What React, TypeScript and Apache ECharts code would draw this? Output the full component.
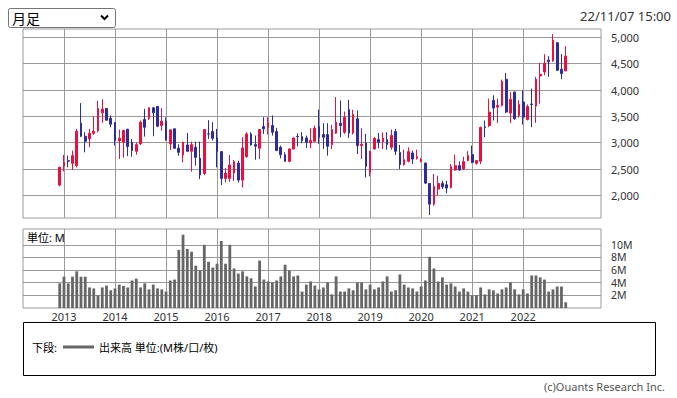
import React, { useEffect, useRef } from 'react';
import * as echarts from 'echarts';

// Monthly candles, first candle = 2012/12, last = 2022/11
const firstMonth = '2012-12';
const openP = [
  2195, 2564, 2658, 2608, 2564, 3371, 3123, 3072, 3180, 3231, 3568, 3650, 3466,
  3383, 3034, 3008, 3256, 3008, 2837, 2977, 3441, 3466, 3663, 3689, 3326,
  3409, 2977, 3263, 2894, 2767, 2958, 2837, 2913, 2703, 2417, 3170, 3212,
  3091, 2831, 2322, 2322, 2424, 2614, 2290, 2735, 3167, 2964, 2894, 3307,
  3294, 3326, 3212, 2913, 2773, 2646, 2881, 3120, 3117, 3091, 2996, 3027,
  3307, 3155, 3155, 2964, 3180, 3371, 3199, 3631, 3186, 3453, 2945, 2996,
  2436, 2881, 3059, 3021, 3059, 2913, 3212, 2818, 2583, 2646, 2805, 2703,
  2646, 2614, 2227, 1833, 2119, 2227, 2201, 2150, 2481, 2564, 2500, 2660,
  2774, 2609, 2647, 3300, 3327, 3804, 3677, 3709, 4205, 3563, 3963, 3518,
  3773, 3442, 3735, 3696, 4269, 4345, 4568, 4555, 4898, 4396, 4364,
];
const closeP = [
  2532, 2621, 2650, 2754, 3218, 3123, 3027, 3180, 3218, 3650, 3638, 3428, 3352,
  3047, 3085, 3231, 2926, 2850, 2964, 3390, 3294, 3663, 3568, 3314, 3409,
  3053, 3244, 2894, 2818, 3008, 2837, 2964, 2722, 2386, 3250, 3165, 3085,
  2831, 2322, 2424, 2576, 2640, 2290, 2900, 3167, 2958, 2932, 3250, 3263,
  3377, 3199, 2850, 2773, 2646, 2881, 3091, 3114, 3040, 3008, 3040, 3275,
  3104, 3104, 2932, 3250, 3390, 3326, 3485, 3186, 3536, 2945, 2970, 2551,
  2837, 3085, 3008, 3085, 2964, 3136, 2837, 2583, 2678, 2831, 2691, 2735,
  2678, 2233, 1833, 2170, 2227, 2163, 2138, 2544, 2564, 2481, 2640, 2755,
  2628, 2660, 3289, 3290, 3582, 3658, 3709, 4167, 3582, 3823, 3455, 3728,
  3486, 3690, 3725, 4205, 4300, 4504, 4536, 4949, 4377, 4313, 4644,
];
const highP = [
  2545, 2767, 2754, 2850, 3263, 3752, 3199, 3263, 3504, 3797, 3822, 3660, 3517,
  3390, 3250, 3250, 3263, 3072, 3008, 3422, 3644, 3670, 3670, 3700, 3657,
  3479, 3250, 3275, 2970, 3021, 3186, 3021, 3021, 3021, 3256, 3428, 3390,
  3263, 2840, 2519, 2767, 2672, 2659, 3104, 3199, 3199, 3136, 3263, 3485,
  3485, 3517, 3282, 2945, 2818, 2894, 3098, 3180, 3199, 3136, 3275, 3326,
  3631, 3371, 3371, 3339, 3867, 3803, 3593, 3816, 3625, 3612, 3275, 3167,
  2845, 3104, 3186, 3199, 3199, 3250, 3263, 2958, 2869, 2913, 2850, 2869,
  2710, 2620, 2233, 2405, 2373, 2278, 2278, 2595, 2773, 2646, 2735, 2838,
  2946, 2665, 3308, 3423, 3836, 3900, 3836, 4199, 4326, 3963, 3970, 3804,
  3995, 3728, 4027, 4250, 4517, 4682, 4644, 5064, 4917, 4682, 4835,
];
const lowP = [
  2169, 2456, 2532, 2481, 2532, 3104, 2818, 2913, 3148, 3199, 3377, 3420, 3294,
  2945, 2691, 2716, 2748, 2735, 2773, 2958, 3117, 3434, 3123, 3294, 3231,
  3040, 2862, 2881, 2754, 2627, 2830, 2449, 2564, 2309, 2386, 3072, 3040,
  2532, 2195, 2246, 2258, 2277, 2246, 2150, 2716, 2945, 2678, 2691, 3167,
  3155, 3136, 2845, 2703, 2640, 2627, 2875, 2932, 2989, 2900, 2894, 3008,
  2977, 2881, 2754, 2881, 3167, 3104, 3167, 3091, 3155, 2786, 2691, 2341,
  2360, 2869, 2894, 2881, 2869, 2869, 2767, 2500, 2564, 2627, 2595, 2678,
  2627, 2214, 1629, 1801, 1992, 2119, 2042, 2131, 2468, 2468, 2481, 2647,
  2609, 2583, 2596, 3105, 3296, 3423, 3372, 3690, 3563, 3372, 3435, 3474,
  3346, 3423, 3296, 3378, 3741, 4281, 4250, 4536, 4364, 4205, 4360,
];
// Volume in millions of shares
const volumeM = [
  3.9, 4.95, 3.9, 4.95, 5.8, 4.95, 4.95, 3.25, 3.1, 2.0, 3.25, 3.55, 2.8,
  3.1, 3.7, 3.5, 3.25, 4.35, 4.65, 3.25, 3.9, 2.95, 3.7, 3.1, 2.95,
  2.6, 4.35, 4.5, 9.2, 11.6, 9.35, 8.9, 6.7, 6.0, 10.0, 7.3, 6.4,
  7.0, 10.6, 7.0, 10.0, 6.25, 5.45, 5.8, 5.0, 4.7, 3.4, 7.5, 4.5,
  4.2, 4.05, 4.35, 5.0, 6.85, 5.95, 5.0, 5.15, 2.6, 3.7, 4.2, 3.55,
  2.95, 3.25, 4.05, 2.15, 5.0, 2.6, 2.6, 3.1, 2.8, 4.05, 4.05, 2.95,
  3.7, 2.95, 3.25, 4.2, 5.0, 2.6, 2.8, 5.3, 3.7, 3.25, 3.1, 2.6,
  3.4, 4.35, 8.1, 6.25, 4.2, 4.85, 3.7, 3.9, 3.4, 2.6, 3.1, 2.6,
  2.0, 2.0, 3.25, 2.15, 2.95, 2.8, 2.3, 2.95, 3.25, 4.05, 2.95, 2.15,
  2.95, 2.3, 5.15, 5.15, 4.85, 4.5, 2.6, 2.95, 3.4, 3.4, 0.9,
];
const yearLabels = ['2013', '2014', '2015', '2016', '2017', '2018', '2019', '2020', '2021', '2022'];
const priceTicks = [2000, 2500, 3000, 3500, 4000, 4500, 5000];
const volumeTicks = [2, 4, 6, 8, 10];
const stampText = '22/11/07 15:00';
const periodText = '月足';
const unitText = '単位: M';
const legendPrefix = '下段:';
const legendText = '出来高 単位:(M株/口/枚)';
const copyrightText = '(c)Ouants Research Inc.';

const UP = '#EB0F3F';
const DOWN = '#2C2C9C';
const GRIDC = '#9a9a9a';
const FONT = '"Noto Sans", "Noto Sans CJK JP", sans-serif';

function monthsFromJan2013(ym: string, offset: number) {
  const [y, m] = ym.split('-').map(Number);
  return (y - 2013) * 12 + (m - 1) + offset;
}

export default function App() {
  const ref = useRef<HTMLDivElement>(null);
  useEffect(() => {
    document.body.style.margin = '0';
    const chart = echarts.init(ref.current!, null, { renderer: 'svg' });
    const candles = openP.map((o, i) => [monthsFromJan2013(firstMonth, i), o, closeP[i], lowP[i], highP[i]]);
    const vols = volumeM.map((v, i) => [monthsFromJan2013(firstMonth, i), v]);
    const yearTicks = yearLabels.map((_, i) => i * 12);
    const xMin = -9.64;
    const xMax = 126.3;
    const baseX = {
      type: 'value' as const,
      min: xMin,
      max: xMax,
      axisLine: { show: false },
      axisTick: { show: false, customValues: yearTicks },
      splitLine: { show: true, lineStyle: { color: GRIDC, width: 1 } },
    };
    chart.setOption({
      animation: false,
      textStyle: { fontFamily: FONT },
      grid: [
        { left: 23, top: 29, width: 578, height: 189, show: true, borderColor: GRIDC, borderWidth: 1 },
        { left: 23, top: 229, width: 578, height: 79, show: true, borderColor: GRIDC, borderWidth: 1 },
      ],
      xAxis: [
        { ...baseX, gridIndex: 0, axisLabel: { show: false, customValues: yearTicks } },
        {
          ...baseX,
          gridIndex: 1,
          axisLabel: {
            show: true,
            customValues: yearTicks,
            formatter: (v: number) => yearLabels[Math.round(v / 12)] ?? '',
            color: '#333',
            fontSize: 11,
            margin: 3,
            fontFamily: FONT,
          },
        },
      ],
      yAxis: [
        {
          gridIndex: 0,
          type: 'value',
          position: 'right',
          min: 1570,
          max: 5160,
          axisLine: { show: false },
          axisTick: { show: true, length: 4, lineStyle: { color: GRIDC }, customValues: priceTicks },
          axisLabel: {
            customValues: priceTicks,
            formatter: (v: number) => v.toLocaleString('en-US'),
            color: '#333',
            fontSize: 11,
            margin: 10,
            fontFamily: FONT,
          },
          splitLine: { show: true, lineStyle: { color: GRIDC, width: 1 } },
        },
        {
          gridIndex: 1,
          type: 'value',
          position: 'right',
          min: 0,
          max: 12.5,
          axisLine: { show: false },
          axisTick: { show: true, length: 4, lineStyle: { color: GRIDC }, customValues: volumeTicks },
          axisLabel: {
            customValues: volumeTicks,
            formatter: (v: number) => `${v}M`,
            color: '#333',
            fontSize: 10.5,
            lineHeight: 11,
            margin: 10,
            fontFamily: FONT,
          },
          splitLine: { show: true, lineStyle: { color: GRIDC, width: 1 } },
        },
      ],
      series: [
        {
          type: 'candlestick',
          xAxisIndex: 0,
          yAxisIndex: 0,
          data: candles,
          barWidth: 2.2,
          itemStyle: {
            color: UP,
            color0: DOWN,
            borderColor: UP,
            borderColor0: DOWN,
            borderWidth: 1,
          },
        },
        {
          type: 'bar',
          xAxisIndex: 1,
          yAxisIndex: 1,
          data: vols,
          barWidth: 2.8,
          itemStyle: { color: '#666' },
        },
      ],
      graphic: [
        {
          type: 'rect',
          shape: { x: 8.5, y: 8.5, width: 107, height: 19, r: 2 },
          style: { fill: '#fff', stroke: '#767676', lineWidth: 1 },
        },
        {
          type: 'text',
          x: 12,
          y: 18,
          style: { text: periodText, fontSize: 14, fill: '#000', verticalAlign: 'middle', fontFamily: '"Noto Sans CJK JP", sans-serif' },
        },
        {
          type: 'polyline',
          shape: { points: [[101, 15.5], [104.5, 19], [108, 15.5]] },
          style: { stroke: '#000', lineWidth: 2, fill: 'none' },
        },
        {
          type: 'text',
          x: 671,
          y: 16,
          style: { text: stampText, fontSize: 13, fill: '#333', align: 'right', verticalAlign: 'middle', fontFamily: FONT },
        },
        {
          type: 'text',
          x: 27,
          y: 237,
          z: 10,
          style: { text: unitText, fontSize: 11, fill: '#000', verticalAlign: 'middle', fontFamily: FONT },
        },
        {
          type: 'rect',
          shape: { x: 23.5, y: 322.5, width: 632, height: 53 },
          style: { fill: 'none', stroke: '#000', lineWidth: 1 },
        },
        {
          type: 'text',
          x: 32,
          y: 347,
          style: { text: legendPrefix, fontSize: 11, fill: '#000', verticalAlign: 'middle', fontFamily: FONT },
        },
        {
          type: 'line',
          shape: { x1: 63, y1: 347, x2: 94, y2: 347 },
          style: { stroke: '#666', lineWidth: 3 },
        },
        {
          type: 'text',
          x: 99,
          y: 347,
          style: { text: legendText, fontSize: 11, fill: '#000', verticalAlign: 'middle', fontFamily: FONT },
        },
        {
          type: 'text',
          x: 665,
          y: 386,
          style: { text: copyrightText, fontSize: 11, fill: '#555', align: 'right', verticalAlign: 'middle', fontFamily: FONT },
        },
      ],
    });
    return () => chart.dispose();
  }, []);
  return <div ref={ref} style={{ position: 'fixed', left: 0, top: 0, width: 677, height: 398, background: '#fff' }} />;
}
